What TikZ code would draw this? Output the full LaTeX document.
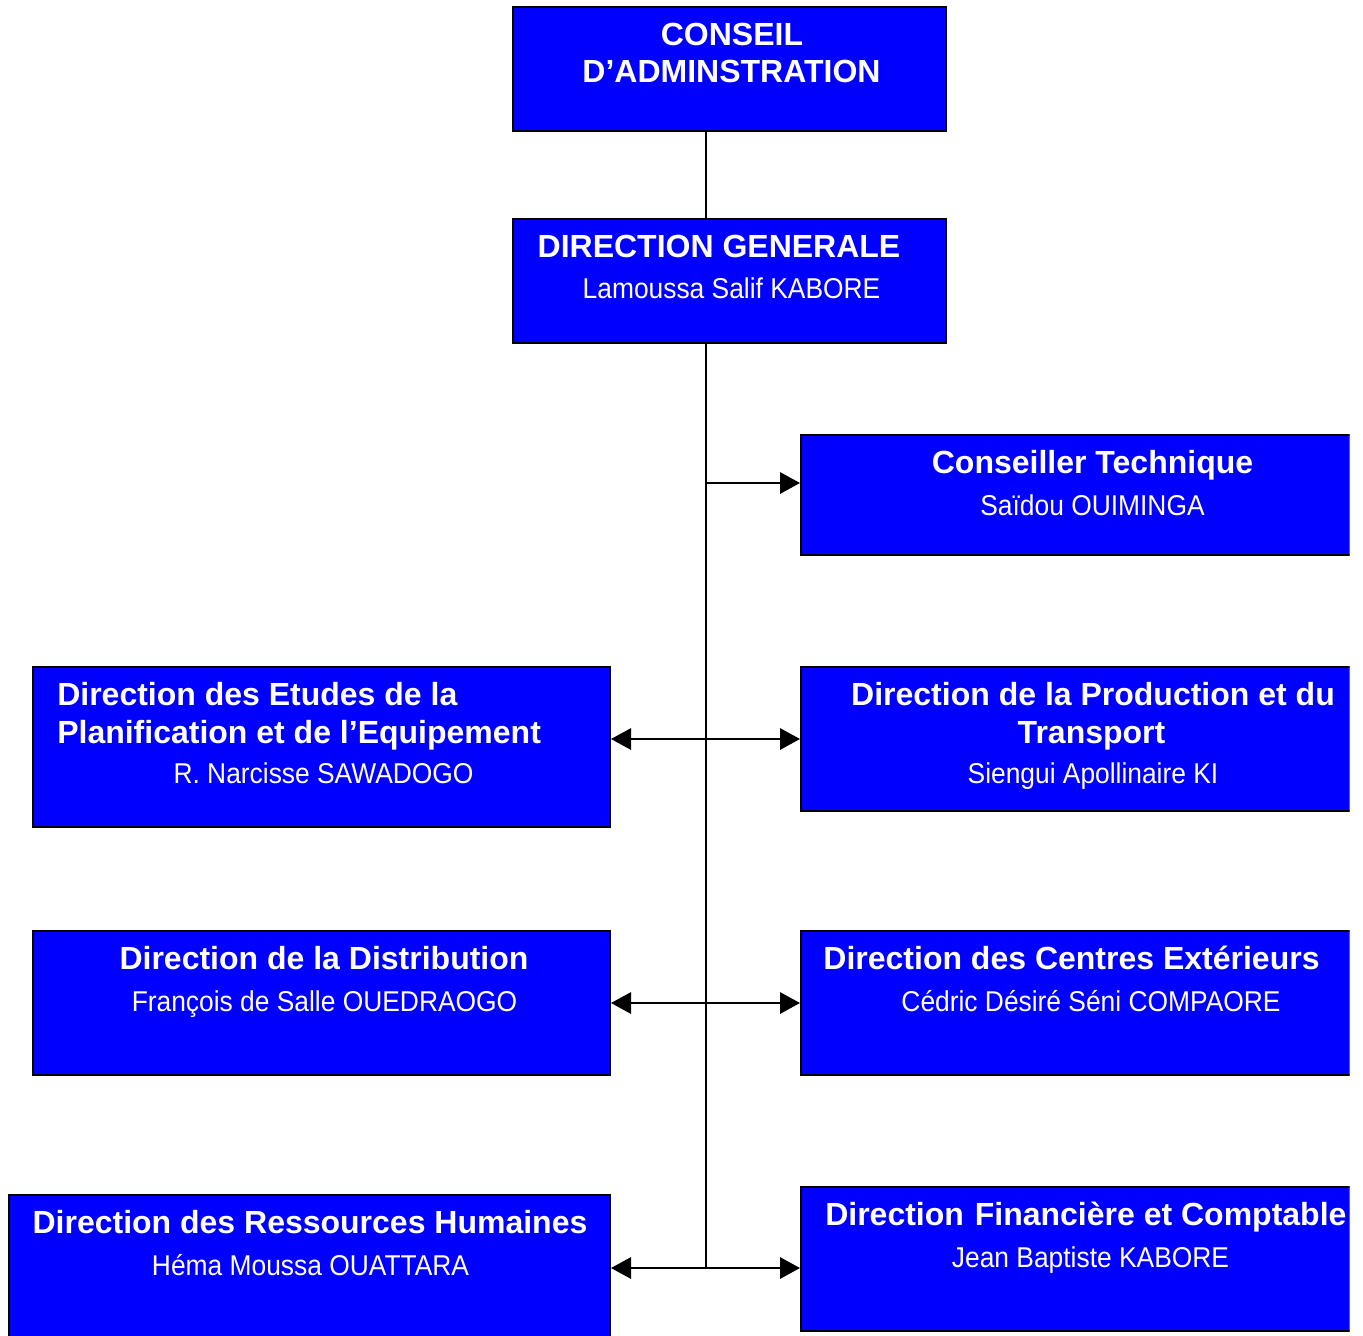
\documentclass[tikz,border=0pt]{standalone}
\usepackage{fontspec}
\setmainfont{Liberation Sans}
\newfontfamily\titlefont{Liberation Sans}[BoldFont={Liberation Sans Bold}]
\newfontfamily\namefont{Liberation Sans}[FakeStretch=0.92]
\usetikzlibrary{arrows.meta,fit}
\definecolor{boxblue}{RGB}{0,0,255}
\tikzset{
  box/.style={draw=black, fill=boxblue, line width=1.5pt, inner sep=0pt},
  ttl/.style={text=white, font=\titlefont\bfseries\fontsize{24pt}{28pt}\selectfont, inner sep=0pt, anchor=base},
  nm/.style={text=white, font=\namefont\fontsize{21.5pt}{25pt}\selectfont, inner sep=0pt, anchor=base},
  link/.style={draw=black, line width=1.5pt},
  arr/.style={link, -{Triangle[length=15pt, width=16pt]}},
  darr/.style={link, {Triangle[length=15pt, width=16pt]}-{Triangle[length=15pt, width=16pt]}}
}
\begin{document}
\begin{tikzpicture}[x=0.75pt, y=-0.75pt]
\useasboundingbox (0,0) rectangle (1363,1335);
\begin{scope}
\clip (0,0) rectangle (1349.5,1335);
% boxes
\node[box, fit={(513,7) (946,131)}] (ca) {};
\node[box, fit={(513,219) (946,343)}] (dg) {};
\node[box, fit={(801,435) (1360,555)}] (ct) {};
\node[box, fit={(801,667) (1360,811)}] (dp) {};
\node[box, fit={(33,667) (610,827)}] (de) {};
\node[box, fit={(33,931) (610,1075)}] (dd) {};
\node[box, fit={(801,931) (1360,1075)}] (dc) {};
\node[box, fit={(9,1195) (610,1345)}] (dr) {};
\node[box, fit={(801,1187) (1360,1331)}] (df) {};
% texts
\node[ttl] (t1a) at (732,45) {CONSEIL};
\node[ttl] (t1b) at (731.5,82) {D’ADMINSTRATION};
\node[ttl] (t2a) at (719,257) {DIRECTION GENERALE};
\node[nm] (t2b) at (731.5,298) {Lamoussa Salif KABORE};
\node[ttl] (t3a) at (1092.5,473) {Conseiller Technique};
\node[nm] (t3b) at (1092.5,515) {Saïdou OUIMINGA};
\node[ttl] (t4a) at (1093,705) {Direction de la Production et du};
\node[ttl] (t4b) at (1091.5,743) {Transport};
\node[nm] (t4c) at (1093,783) {Siengui Apollinaire KI};
\node[ttl, anchor=base west] (t5a) at (57,705) {Direction des Etudes de la};
\node[ttl, anchor=base west] (t5b) at (57,743) {Planification et de l’Equipement};
\node[nm] (t5c) at (323.5,783) {R. Narcisse SAWADOGO};
\node[ttl] (t6a) at (324,969) {Direction de la Distribution};
\node[nm] (t6b) at (324.5,1011) {François de Salle OUEDRAOGO};
\node[ttl] (t7a) at (1071.5,969) {Direction des Centres Extérieurs};
\node[nm] (t7b) at (1091,1011) {Cédric Désiré Séni COMPAORE};
\node[ttl] (t8a) at (310,1233) {Direction des Ressources Humaines};
\node[nm] (t8b) at (310.5,1275) {Héma Moussa OUATTARA};
\node[ttl, anchor=base west] (t9a) at (825,1225) {Direction\ \hspace{1.5pt}Financière et Comptable};
\node[nm] (t9b) at (1090.5,1267) {Jean Baptiste KABORE};
% connectors
\coordinate (tx) at (706,0);
\coordinate (j1) at (706,483);
\coordinate (j2) at (706,739);
\coordinate (j3) at (706,1003);
\coordinate (j4) at (706,1268);
\draw[link] (ca.south -| tx) -- (dg.north -| tx);
\draw[link] (dg.south -| tx) -- (j4);
\draw[arr] (j1) -- (j1 -| ct.west);
\draw[darr] (j2 -| de.east) -- (j2 -| dp.west);
\draw[darr] (j3 -| dd.east) -- (j3 -| dc.west);
\draw[darr] (j4 -| dr.east) -- (j4 -| df.west);
\end{scope}
\end{tikzpicture}
\end{document}
